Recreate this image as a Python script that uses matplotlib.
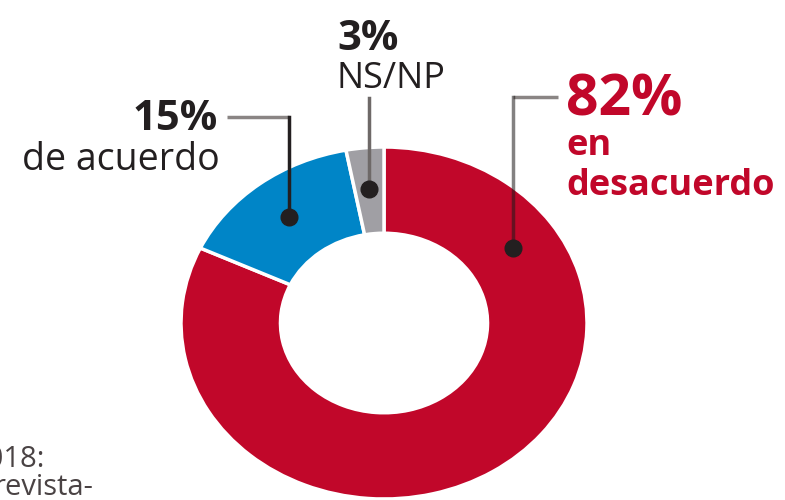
import numpy as np
import matplotlib.pyplot as plt

# survey shares (percent)
labels = ["en desacuerdo", "de acuerdo", "NS/NP"]
values = [82, 15, 3]
colors = ["#C1072A", "#0085C7", "#A09FA4"]

plt.rcParams["font.family"] = ["Open Sans", "DejaVu Sans"]
W, H = 785, 500
fig = plt.figure(figsize=(W / 100, H / 100), dpi=100)

# donut: slightly wider than tall, like the source image
cx, cy, rx, ry = 384, 323, 203, 176
ax = fig.add_axes([(cx - rx) / W, (H - cy - ry) / H, 2 * rx / W, 2 * ry / H])
wedges, _ = ax.pie(values, colors=colors, startangle=90, counterclock=False,
                   radius=1.0,
                   wedgeprops=dict(width=0.49, edgecolor="white", linewidth=2.5))
ax.set_aspect("auto")
ax.set_xlim(-1, 1)
ax.set_ylim(-1, 1)
ax.axis("off")

# overlay in pixel coordinates for labels and leader lines
ov = fig.add_axes([0, 0, 1, 1])
ov.set_xlim(0, W)
ov.set_ylim(H, 0)
ov.axis("off")
ov.patch.set_alpha(0)


def dot_at(wedge, frac=0.5, r=0.765):
    ang = np.deg2rad(wedge.theta1 + frac * (wedge.theta2 - wedge.theta1))
    return cx + r * rx * np.cos(ang), cy - r * ry * np.sin(ang)


dark = "#231F20"
grey_line = "#8A8584"

# 15% de acuerdo
bx, by = dot_at(wedges[1])
ov.plot([227, bx], [117, 117], color=grey_line, lw=2.5, solid_capstyle="butt")
ov.plot([bx, bx], [117, by], color=dark, lw=2.5)
ov.plot(bx, by, "o", color=dark, ms=12)
ov.text(218, 130, f"{values[1]}%", ha="right", va="baseline",
        fontsize=30, fontweight="bold", color=dark)
ov.text(220, 170, labels[1], ha="right", va="baseline",
        fontsize=27, color=dark)

# 3% NS/NP
gx, gy = dot_at(wedges[2])
ov.plot([gx, gx], [98, gy], color="#6E6968", lw=2.5)
ov.plot(gx, gy, "o", color=dark, ms=12)
ov.text(337, 50, f"{values[2]}%", ha="left", va="baseline",
        fontsize=30, fontweight="bold", color=dark)
ov.text(337, 88, labels[2], ha="left", va="baseline",
        fontsize=26, color=dark)

# 82% en desacuerdo
rx_d, ry_d = dot_at(wedges[0], frac=0.81)
ov.plot([558, rx_d], [97, 97], color=grey_line, lw=2.5, solid_capstyle="butt")
ov.plot([rx_d, rx_d], [97, ry_d], color="#1E1A1A", lw=2.5, alpha=0.55)
ov.plot(rx_d, ry_d, "o", color=dark, ms=12)
red = colors[0]
ov.text(566, 115, f"{values[0]}%", ha="left", va="baseline",
        fontsize=41, fontweight="bold", color=red)
ov.text(566, 155, "en", ha="left", va="baseline",
        fontsize=26, fontweight="bold", color=red)
ov.text(566, 195, "desacuerdo", ha="left", va="baseline",
        fontsize=26, fontweight="bold", color=red)

# cropped source note at the left edge
ov.text(45, 467, "2018:", ha="right", va="baseline", fontsize=21, color="#4A4344")
ov.text(93, 495, "revista-", ha="right", va="baseline", fontsize=21, color="#4A4344")

fig.savefig("out.png", dpi=100)
